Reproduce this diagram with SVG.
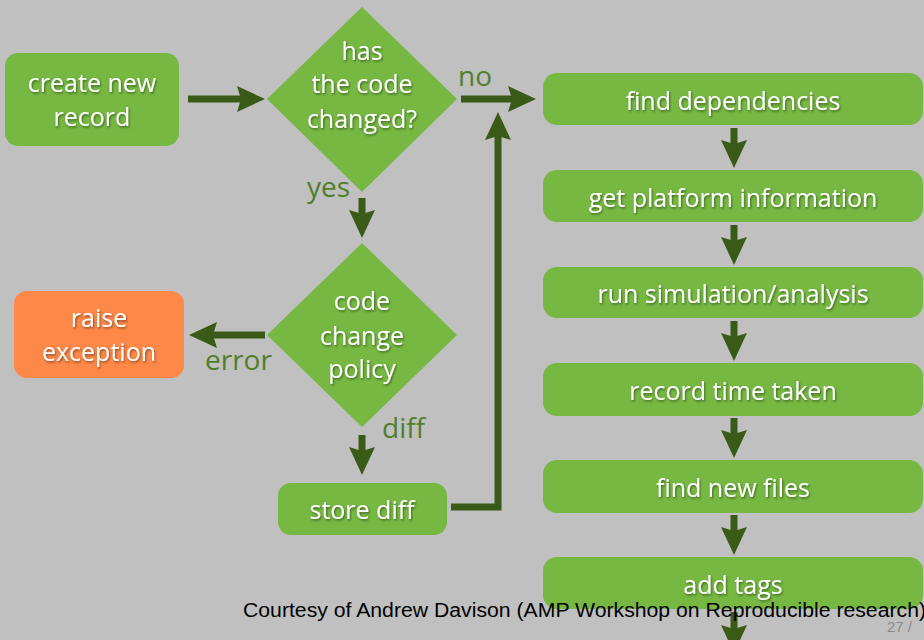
<svg xmlns="http://www.w3.org/2000/svg" width="924" height="640" viewBox="0 0 924 640">
<defs>
<style>
.box{fill:#76b842;}
.orange{fill:#fe8847;}
.t{font-family:"Open Sans","Lato","Liberation Sans",sans-serif;font-size:25px;fill:#ffffff;text-anchor:middle;filter:url(#sh);}
.lbl{font-family:"Open Sans","Lato","Liberation Sans",sans-serif;font-size:28px;fill:#4f7f2c;}
.c{fill:none;stroke:#3a5b18;stroke-width:7;marker-end:url(#ah);}
.foot{font-family:"Liberation Sans","DejaVu Sans",sans-serif;font-size:20px;fill:#000000;}
.pg{font-family:"Liberation Sans","DejaVu Sans",sans-serif;font-size:15px;fill:#8a8a8a;}
</style>
<filter id="sh" x="-20%" y="-40%" width="140%" height="180%">
<feDropShadow dx="1" dy="1.5" stdDeviation="1.3" flood-color="#000000" flood-opacity="0.45"/>
</filter>
<marker id="ah" markerUnits="userSpaceOnUse" markerWidth="30" markerHeight="28" refX="8" refY="13" orient="auto">
<path d="M0,0 L28,13 L0,26 L4,13 Z" fill="#3a5b18"/>
</marker>
</defs>
<rect width="924" height="640" fill="#c0c0c0"/>

<g id="connectors">
<line class="c" x1="188" y1="99" x2="245" y2="99"/>
<line class="c" x1="461" y1="99" x2="516" y2="99"/>
<line class="c" x1="362" y1="198" x2="362" y2="218"/>
<line class="c" x1="265" y1="335" x2="209" y2="335"/>
<line class="c" x1="362" y1="435" x2="362" y2="455"/>
<polyline class="c" points="451,507 498,507 498,132"/>
<line class="c" x1="734" y1="128" x2="734" y2="148"/>
<line class="c" x1="734" y1="225" x2="734" y2="245"/>
<line class="c" x1="734" y1="321" x2="734" y2="341"/>
<line class="c" x1="734" y1="418" x2="734" y2="438"/>
<line class="c" x1="734" y1="515" x2="734" y2="535"/>
<line class="c" x1="734" y1="612" x2="734" y2="633"/>
</g>

<g id="labels">
<text class="lbl" x="458" y="86">no</text>
<text class="lbl" x="350" y="197" text-anchor="end">yes</text>
<text class="lbl" x="205" y="370" font-size="30">error</text>
<text class="lbl" x="382" y="438">diff</text>
</g>

<g id="create-new-record">
<rect class="box" x="5" y="53" width="174" height="93" rx="13"/>
<text class="t" x="92" y="92">create new</text>
<text class="t" x="92" y="126">record</text>
</g>

<g id="has-code-changed">
<polygon class="box" points="362,7 457,99 362,192 267,99"/>
<text class="t" x="362" y="60">has</text>
<text class="t" x="362" y="93">the code</text>
<text class="t" x="362" y="128">changed?</text>
</g>

<g id="code-change-policy">
<polygon class="box" points="362,243 457,335 362,427 267,335"/>
<text class="t" x="362" y="310">code</text>
<text class="t" x="362" y="345">change</text>
<text class="t" x="362" y="378">policy</text>
</g>

<g id="raise-exception">
<rect class="orange" x="14" y="291" width="170" height="87" rx="13"/>
<text class="t" x="99" y="327">raise</text>
<text class="t" x="99" y="361">exception</text>
</g>

<g id="store-diff">
<rect class="box" x="278" y="483" width="169" height="52" rx="13"/>
<text class="t" x="362" y="519">store diff</text>
</g>

<g id="find-dependencies">
<rect class="box" x="543" y="73" width="380" height="52" rx="14"/>
<text class="t" x="733" y="110">find dependencies</text>
</g>
<g id="get-platform-information">
<rect class="box" x="543" y="170" width="380" height="52" rx="14"/>
<text class="t" x="733" y="207">get platform information</text>
</g>
<g id="run-simulation">
<rect class="box" x="543" y="267" width="380" height="51" rx="14"/>
<text class="t" x="733" y="303">run simulation/analysis</text>
</g>
<g id="record-time-taken">
<rect class="box" x="543" y="363" width="380" height="53" rx="14"/>
<text class="t" x="733" y="400">record time taken</text>
</g>
<g id="find-new-files">
<rect class="box" x="543" y="460" width="380" height="53" rx="14"/>
<text class="t" x="733" y="497">find new files</text>
</g>
<g id="add-tags">
<rect class="box" x="543" y="557" width="380" height="52" rx="14"/>
<text class="t" x="733" y="594">add tags</text>
</g>

<g id="footer">
<text class="foot" x="243" y="617" textLength="683" lengthAdjust="spacingAndGlyphs">Courtesy of Andrew Davison (AMP Workshop on Reproducible research)</text>
<text class="pg" x="887" y="632">27 /</text>
</g>
</svg>
